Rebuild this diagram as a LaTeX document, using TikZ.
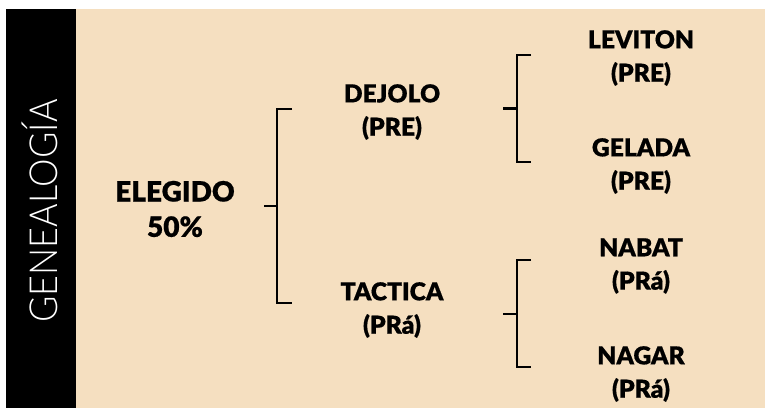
\documentclass[tikz,border=0pt]{standalone}
\usepackage{fontspec}
\setmainfont{Open Sans}
\newfontfamily\blackfont[FakeBold=0.6]{Lato Black}
\newfontfamily\lightfont{Lato Light}
\definecolor{beige}{HTML}{F5DFC0}
\tikzset{
  lbl/.style={font=\blackfont\fontsize{18.5}{25}\selectfont, align=center, text=black, inner sep=0pt},
  biglbl/.style={font=\blackfont\fontsize{21}{26.5}\selectfont, align=center, text=black, inner sep=0pt},
  brk/.style={draw=black, line width=1.8pt, line cap=butt, line join=miter},
  stub/.style={draw=black, line width=1.8pt}
}
\begin{document}
\begin{tikzpicture}[x=0.75pt,y=-0.75pt]
\useasboundingbox (0,0) rectangle (765,408);
\fill[white] (0,0) rectangle (765,408);
\fill[beige] (76,9) rectangle (765,408);
\fill[black] (6,9) rectangle (76,408);
\node[rotate=90, xscale=0.93, text=white, inner sep=0pt, font=\lightfont\fontsize{29}{32}\selectfont] (title) at (39.5,211) {GENEALOGÍA};

\node[biglbl] (elegido) at (175,209) {ELEGIDO\\50\%};
\node[lbl] (dejolo) at (392,112) {DEJOLO\\(PRE)};
\node[lbl] (tactica) at (392,310) {TACTICA\\(PRá)};
\node[lbl] (leviton) at (641,58) {LEVITON\\(PRE)};
\node[lbl] (gelada) at (641,166) {GELADA\\(PRE)};
\node[lbl] (nabat) at (641,266) {NABAT\\(PRá)};
\node[lbl] (nagar) at (641,374) {NAGAR\\(PRá)};

\coordinate (a0) at (264,206); \coordinate (a1) at (277,206);
\coordinate (a2) at (292,109); \coordinate (a3) at (292,303);
\coordinate (b0) at (503,108.5); \coordinate (b1) at (517,108.5);
\coordinate (b2) at (531,55); \coordinate (b3) at (531,162);
\coordinate (c0) at (503,314); \coordinate (c1) at (517,314);
\coordinate (c2) at (531,260); \coordinate (c3) at (531,367);

\draw[brk] (a2) -| (a1) |- (a3);
\draw[stub] (a0) -- (a1);
\draw[brk] (b2) -| (b1) |- (b3);
\draw[stub] (b0) -- (b1);
\draw[brk] (c2) -| (c1) |- (c3);
\draw[stub] (c0) -- (c1);
\end{tikzpicture}
\end{document}
